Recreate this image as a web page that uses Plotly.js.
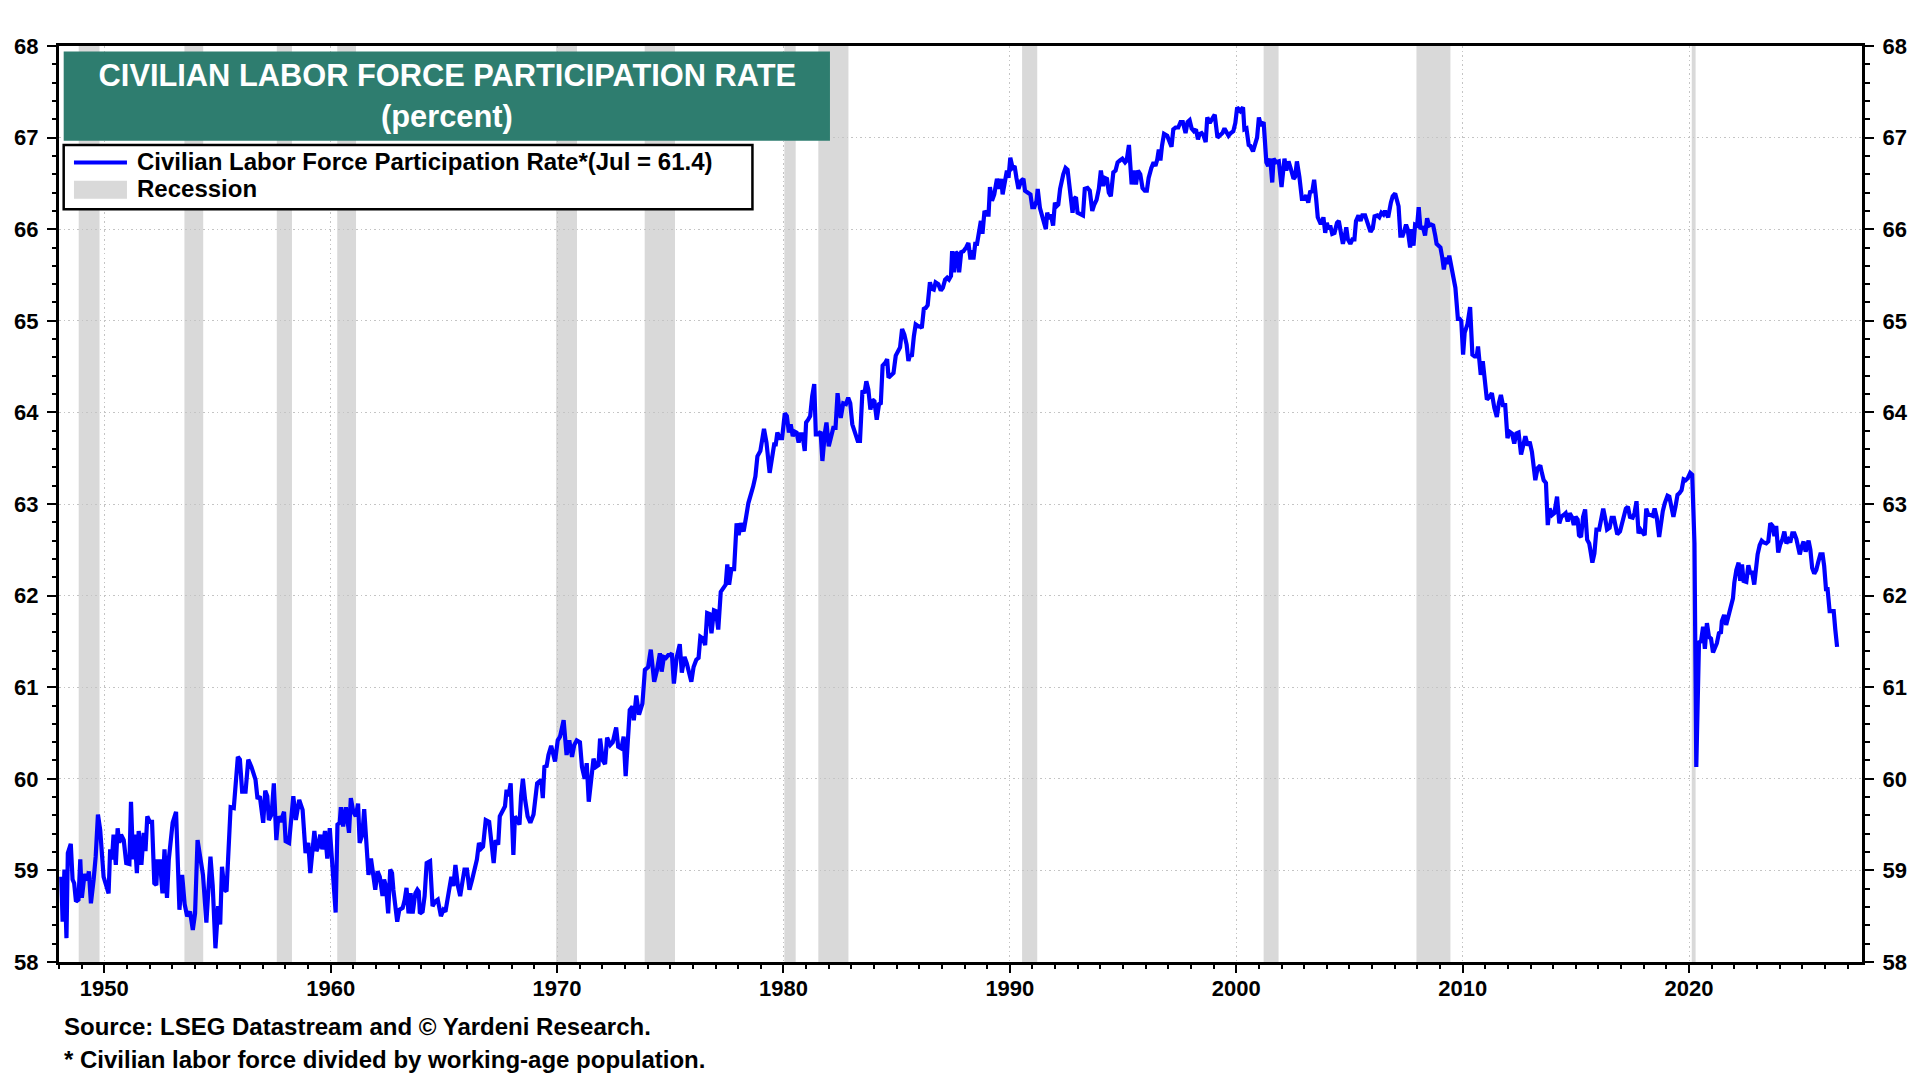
<!DOCTYPE html>
<html>
<head>
<meta charset="utf-8">
<script src="https://cdn.plot.ly/plotly-3.0.1.min.js"></script>
<style>
html,body{margin:0;padding:0;background:#fff;}
#chart{width:1920px;height:1080px;}
</style>
</head>
<body>
<div id="chart"></div>
<script>
// ---- Data (decimal year, percent) ----
const dates = [
1948.10,1948.16,1948.24,1948.33,1948.39,1948.52,1948.60,1948.67,1948.75,1948.86,1948.94,1949.01,1949.13,1949.25,1949.32,1949.41,1949.53,1949.62,1949.72,1949.82,1949.97,
1950.19,1950.26,1950.34,1950.41,1950.51,1950.59,1950.66,1950.74,1950.86,1950.97,1951.11,1951.18,1951.27,1951.34,1951.44,1951.52,1951.64,1951.74,1951.82,1951.90,
1952.01,1952.11,1952.21,1952.30,1952.35,1952.46,1952.57,1952.66,1952.77,1952.85,1953.02,1953.17,1953.32,1953.44,1953.55,1953.66,1953.79,1953.91,
1954.01,1954.12,1954.22,1954.36,1954.51,1954.69,1954.79,1954.91,1955.03,1955.12,1955.20,1955.31,1955.40,1955.50,1955.58,1955.72,1955.90,1955.99,
1956.09,1956.24,1956.36,1956.50,1956.68,1956.77,1956.87,1957.02,1957.11,1957.20,1957.27,1957.39,1957.49,1957.60,1957.69,1957.79,1957.94,
1958.01,1958.16,1958.35,1958.46,1958.61,1958.76,1958.89,1959.01,1959.10,1959.19,1959.28,1959.37,1959.45,1959.54,1959.63,1959.75,1959.85,1959.96,
1960.04,1960.22,1960.30,1960.40,1960.45,1960.55,1960.67,1960.81,1960.89,1961.00,1961.11,1961.21,1961.28,1961.40,1961.48,1961.58,1961.67,1961.78,1961.85,1961.97,
1962.07,1962.17,1962.29,1962.36,1962.44,1962.54,1962.63,1962.71,1962.77,1962.85,1962.94,1963.03,1963.18,1963.27,1963.35,1963.44,1963.53,1963.62,1963.74,1963.83,1963.89,1963.94,
1964.06,1964.15,1964.24,1964.39,1964.50,1964.62,1964.73,1964.87,1964.98,1965.07,1965.16,1965.24,1965.33,1965.42,1965.51,1965.62,1965.72,1965.81,1965.91,
1966.02,1966.13,1966.25,1966.37,1966.46,1966.55,1966.65,1966.73,1966.85,1967.00,1967.10,1967.20,1967.29,1967.40,1967.47,1967.59,1967.70,1967.77,1967.85,1967.95,
1968.07,1968.14,1968.25,1968.34,1968.41,1968.49,1968.59,1968.70,1968.82,1968.96,1969.12,1969.22,1969.30,1969.37,1969.44,1969.54,1969.62,1969.74,1969.82,1969.91,
1970.03,1970.13,1970.29,1970.42,1970.54,1970.66,1970.76,1970.87,1971.01,1971.10,1971.22,1971.31,1971.40,1971.50,1971.61,1971.72,1971.83,1971.90,
1972.02,1972.12,1972.21,1972.35,1972.46,1972.61,1972.70,1972.84,1972.94,1973.03,1973.10,1973.21,1973.33,1973.39,1973.50,1973.62,1973.77,1973.88,
1974.02,1974.14,1974.29,1974.40,1974.54,1974.62,1974.72,1974.81,1974.91,1974.99,1975.07,1975.16,1975.28,1975.42,1975.51,1975.63,1975.73,1975.81,1975.93,
1976.03,1976.15,1976.25,1976.33,1976.45,1976.54,1976.63,1976.73,1976.82,1976.93,1977.02,1977.12,1977.23,1977.37,1977.45,1977.52,1977.60,1977.70,1977.82,1977.93,
1978.02,1978.12,1978.24,1978.35,1978.45,1978.66,1978.76,1978.85,1978.98,1979.14,1979.25,1979.39,1979.50,1979.59,1979.66,1979.73,1979.84,1979.94,
1980.06,1980.15,1980.24,1980.32,1980.41,1980.50,1980.58,1980.67,1980.75,1980.84,1980.94,1981.00,1981.09,1981.18,1981.27,1981.36,1981.43,1981.53,1981.64,1981.72,1981.83,1981.90,
1982.00,1982.09,1982.20,1982.30,1982.39,1982.45,1982.53,1982.64,1982.76,1982.86,1982.95,1983.04,1983.16,1983.28,1983.38,1983.49,1983.58,1983.66,1983.75,1983.84,1983.93,
1984.02,1984.12,1984.22,1984.30,1984.38,1984.49,1984.58,1984.64,1984.75,1984.86,1984.96,1985.08,1985.15,1985.24,1985.34,1985.44,1985.52,1985.59,1985.67,1985.76,1985.84,1985.96,
1986.03,1986.11,1986.20,1986.28,1986.37,1986.47,1986.55,1986.64,1986.72,1986.84,1986.95,1987.04,1987.14,1987.23,1987.31,1987.40,1987.45,1987.54,1987.61,1987.70,1987.76,1987.85,1987.95,
1988.07,1988.17,1988.26,1988.32,1988.39,1988.47,1988.55,1988.64,1988.72,1988.79,1988.88,1988.99,1989.06,1989.12,1989.21,1989.31,1989.43,1989.53,1989.62,1989.68,1989.77,1989.87,1989.94,
1990.02,1990.12,1990.21,1990.29,1990.38,1990.50,1990.60,1990.67,1990.82,1990.91,1990.99,1991.08,1991.18,1991.23,1991.33,1991.42,1991.50,1991.59,1991.65,1991.74,1991.81,1991.91,1991.99,
1992.06,1992.14,1992.22,1992.36,1992.46,1992.55,1992.65,1992.77,1992.83,1992.92,1992.99,1993.11,1993.23,1993.31,1993.43,1993.53,1993.64,1993.73,1993.83,1993.93,
1994.02,1994.12,1994.20,1994.29,1994.37,1994.46,1994.57,1994.67,1994.76,1994.86,1994.97,1995.09,1995.16,1995.26,1995.38,1995.47,1995.57,1995.66,1995.76,1995.86,1995.96,
1996.05,1996.13,1996.25,1996.35,1996.43,1996.51,1996.58,1996.65,1996.72,1996.81,1996.95,1997.05,1997.14,1997.22,1997.32,1997.44,1997.54,1997.64,1997.76,1997.85,1997.94,
1998.03,1998.13,1998.22,1998.31,1998.38,1998.47,1998.56,1998.65,1998.72,1998.83,1998.95,1999.05,1999.17,1999.27,1999.39,1999.48,1999.57,1999.66,1999.76,1999.87,1999.96,
2000.04,2000.18,2000.30,2000.36,2000.45,2000.55,2000.62,2000.74,2000.84,2000.92,2001.00,2001.09,2001.21,2001.33,2001.41,2001.50,2001.59,2001.65,2001.76,2001.88,
2002.00,2002.06,2002.13,2002.21,2002.31,2002.41,2002.53,2002.60,2002.68,2002.79,2002.90,2003.00,2003.09,2003.18,2003.27,2003.35,2003.44,2003.53,2003.60,2003.71,2003.79,2003.85,2003.93,
2004.00,2004.08,2004.15,2004.24,2004.34,2004.45,2004.53,2004.62,2004.71,2004.80,2004.86,2004.93,2005.04,2005.13,2005.22,2005.29,2005.40,2005.49,2005.57,2005.69,2005.81,2005.93,
2006.03,2006.11,2006.23,2006.32,2006.41,2006.50,2006.57,2006.65,2006.71,2006.83,2006.91,2007.02,2007.10,2007.17,2007.25,2007.35,2007.42,2007.50,2007.57,2007.68,2007.75,2007.83,2007.90,2007.99,
2008.06,2008.14,2008.24,2008.34,2008.43,2008.52,2008.61,2008.70,2008.79,2008.85,2008.94,2009.02,2009.10,2009.17,2009.25,2009.32,2009.41,2009.50,2009.59,2009.68,2009.79,2009.87,2009.94,
2010.02,2010.09,2010.21,2010.33,2010.43,2010.53,2010.62,2010.68,2010.74,2010.80,2010.89,2010.98,2011.07,2011.19,2011.29,2011.40,2011.51,2011.60,2011.69,2011.78,2011.88,2011.98,
2012.07,2012.18,2012.28,2012.37,2012.47,2012.58,2012.67,2012.77,2012.87,2012.96,2013.06,2013.14,2013.21,2013.31,2013.43,2013.50,2013.58,2013.68,2013.76,2013.84,2013.95,
2014.05,2014.17,2014.27,2014.36,2014.46,2014.55,2014.64,2014.73,2014.82,2014.91,2014.99,2015.08,2015.14,2015.23,2015.32,2015.41,2015.50,2015.59,2015.64,2015.73,2015.82,2015.91,
2016.03,2016.12,2016.21,2016.29,2016.38,2016.49,2016.58,2016.68,2016.75,2016.83,2016.95,2017.03,2017.12,2017.21,2017.30,2017.39,2017.51,2017.59,2017.68,2017.77,2017.86,2017.95,
2018.04,2018.11,2018.20,2018.31,2018.40,2018.48,2018.57,2018.68,2018.75,2018.84,2018.93,2019.05,2019.13,2019.22,2019.31,2019.40,2019.49,2019.58,2019.67,2019.76,2019.85,2019.94,
2020.05,2020.14,2020.24,2020.32,2020.44,2020.53,2020.62,2020.70,2020.79,2020.88,2020.97,2021.06,2021.14,2021.23,2021.32,2021.41,2021.45,2021.55,2021.64,2021.75,2021.85,2021.94,
2022.00,2022.09,2022.19,2022.26,2022.34,2022.41,2022.53,2022.62,2022.70,2022.79,2022.88,2022.96,2023.03,2023.12,2023.21,2023.30,2023.41,2023.50,2023.59,2023.69,2023.77,2023.85,2023.94,
2024.03,2024.12,2024.21,2024.30,2024.39,2024.47,2024.56,2024.65,2024.74,2024.80,2024.89,2024.97,2025.06,2025.15,2025.21,2025.28,2025.36,2025.44,2025.53,2025.62,2025.71,2025.80,2025.90,2025.97,
2026.05,2026.12,2026.21,2026.30,2026.39,2026.46,2026.54
];
const rates = [
58.93,58.44,59.01,58.26,59.19,59.29,58.90,58.86,58.66,58.68,59.12,58.70,58.96,58.89,58.99,58.64,58.90,59.15,59.61,59.44,58.93,
58.75,59.23,59.12,59.39,59.06,59.46,59.30,59.39,59.33,59.08,59.07,59.75,59.12,59.39,58.97,59.43,59.06,59.41,59.21,59.59,
59.53,59.53,58.86,58.84,59.10,59.10,58.75,59.23,58.70,59.12,59.52,59.64,58.57,58.95,58.63,58.50,58.55,58.35,
58.53,59.33,59.17,58.95,58.43,59.15,58.83,58.15,58.61,58.41,59.04,58.79,58.77,59.41,59.69,59.68,60.24,60.21,
59.86,59.86,60.21,60.13,59.99,59.78,59.81,59.52,59.87,59.81,59.55,59.61,59.95,59.33,59.59,59.53,59.64,
59.32,59.30,59.81,59.55,59.77,59.66,59.19,59.30,58.97,59.23,59.43,59.21,59.26,59.39,59.23,59.43,59.13,59.46,
59.19,58.54,59.50,59.52,59.69,59.48,59.69,59.41,59.79,59.64,59.59,59.73,59.30,59.39,59.67,59.26,58.95,59.13,58.97,58.79,
58.99,58.93,58.72,58.90,58.83,58.53,59.01,58.97,58.79,58.57,58.44,58.57,58.59,58.68,58.81,58.53,58.75,58.53,58.75,58.79,58.77,58.53,
58.55,58.72,59.08,59.10,58.61,58.66,58.68,58.50,58.57,58.55,58.70,58.83,58.93,58.83,59.06,58.83,58.72,58.86,59.01,
59.01,58.79,58.90,59.01,59.12,59.30,59.24,59.26,59.55,59.53,59.30,59.08,59.33,59.28,59.59,59.66,59.70,59.88,59.81,59.95,
59.17,59.59,59.55,59.50,59.81,60.00,59.77,59.59,59.52,59.61,59.95,59.97,59.99,59.79,60.13,60.14,60.26,60.36,60.28,60.19,
60.42,60.46,60.64,60.26,60.42,60.24,60.37,60.42,60.40,60.13,60.00,60.17,59.75,60.02,60.22,60.13,60.15,60.44,
60.20,60.16,60.45,60.37,60.40,60.56,60.35,60.33,60.46,60.03,60.39,60.75,60.79,60.64,60.91,60.70,60.82,61.19,
61.22,61.41,61.06,61.17,61.37,61.17,61.33,61.32,61.35,61.35,61.37,61.04,61.32,61.47,61.16,61.33,61.26,61.17,61.06,
61.22,61.30,61.32,61.55,61.53,61.46,61.81,61.80,61.59,61.84,61.83,61.63,62.04,62.08,62.12,62.34,62.12,62.29,62.29,62.79,
62.66,62.79,62.70,62.86,63.01,63.19,63.30,63.52,63.58,63.82,63.67,63.34,63.54,63.65,63.65,63.78,63.72,63.72,
63.99,63.96,63.78,63.87,63.74,63.79,63.78,63.67,63.76,63.76,63.58,63.89,63.92,63.96,64.18,64.31,63.76,63.76,63.79,63.47,63.78,63.89,
63.63,63.74,63.83,63.83,64.21,64.07,63.94,64.10,64.09,64.16,64.10,63.87,63.78,63.69,63.69,64.24,64.21,64.34,64.25,64.03,64.14,
64.12,63.92,64.09,64.10,64.51,64.54,64.58,64.38,64.40,64.43,64.62,64.69,64.71,64.91,64.85,64.74,64.56,64.63,64.61,64.83,64.96,64.94,
64.94,64.92,65.13,65.14,65.17,65.42,65.35,65.34,65.42,65.40,65.33,65.36,65.45,65.47,65.45,65.49,65.76,65.53,65.75,65.73,65.53,65.75,65.76,
65.80,65.85,65.67,65.77,65.67,65.84,65.84,65.96,66.09,65.95,66.20,66.16,66.16,66.46,66.31,66.38,66.55,66.44,66.55,66.38,66.54,66.64,66.56,
66.78,66.67,66.69,66.56,66.44,66.53,66.55,66.42,66.39,66.38,66.24,66.24,66.31,66.44,66.23,66.16,66.10,66.00,66.18,66.11,66.16,66.04,66.29,
66.25,66.27,66.44,66.60,66.67,66.65,66.47,66.18,66.33,66.35,66.18,66.17,66.15,66.44,66.45,66.42,66.20,66.27,66.32,66.44,
66.64,66.47,66.56,66.55,66.40,66.36,66.62,66.64,66.73,66.75,66.77,66.73,66.75,66.92,66.49,66.64,66.49,66.64,66.60,66.45,66.42,
66.42,66.56,66.67,66.73,66.69,66.76,66.87,66.75,66.91,67.04,67.02,66.96,66.90,67.09,67.11,67.11,67.17,67.17,67.05,67.17,67.19,
67.10,67.07,67.09,66.98,67.04,67.05,67.02,66.95,67.22,67.16,67.21,67.25,67.00,67.02,67.05,67.10,67.05,67.02,67.05,67.07,67.16,
67.33,67.29,67.33,67.09,67.10,66.92,66.91,66.85,66.93,67.00,67.22,67.13,67.17,66.73,66.69,66.77,66.51,66.77,66.73,66.74,
66.46,66.66,66.77,66.64,66.74,66.66,66.55,66.57,66.74,66.57,66.33,66.33,66.37,66.29,66.42,66.40,66.54,66.33,66.13,66.07,66.07,66.13,65.96,
66.07,66.00,66.04,65.95,65.96,66.07,66.09,65.93,65.84,65.93,66.02,65.89,65.84,65.89,65.89,66.09,66.15,66.09,66.15,66.15,66.07,65.97,
66.01,66.14,66.15,66.13,66.18,66.16,66.20,66.16,66.13,66.29,66.36,66.39,66.29,66.25,65.93,65.93,65.98,66.05,66.00,65.80,66.00,65.82,66.05,66.04,
66.24,66.00,66.03,65.93,66.12,66.04,66.05,66.04,65.93,65.84,65.82,65.80,65.69,65.56,65.69,65.62,65.71,65.58,65.45,65.36,65.02,65.02,65.00,
64.63,64.87,64.96,65.15,64.63,64.61,64.61,64.72,64.58,64.41,64.56,64.36,64.14,64.17,64.21,64.05,63.95,64.10,64.19,64.08,64.08,63.72,
63.79,63.77,63.66,63.77,63.78,63.54,63.66,63.74,63.64,63.68,63.57,63.41,63.26,63.39,63.42,63.34,63.26,63.23,62.77,62.95,62.88,
62.90,63.08,62.79,62.86,62.88,62.90,62.81,62.90,62.86,62.77,62.86,62.83,62.66,62.64,62.86,62.94,62.61,62.57,62.50,62.36,62.46,62.72,
62.72,62.83,62.95,62.85,62.72,62.74,62.85,62.85,62.77,62.67,62.70,62.77,62.86,62.95,62.97,62.86,62.85,62.90,63.03,62.68,62.72,62.68,
62.66,62.95,62.88,62.88,62.87,62.95,62.86,62.64,62.77,62.92,63.01,63.09,63.08,62.97,62.86,62.97,63.10,63.12,63.15,63.27,63.26,63.28,
63.34,63.32,62.57,60.13,61.49,61.50,61.66,61.42,61.70,61.55,61.53,61.38,61.42,61.48,61.59,61.60,61.72,61.79,61.68,61.79,61.90,61.97,
62.14,62.28,62.36,62.16,62.34,62.16,62.15,62.33,62.25,62.25,62.12,62.34,62.45,62.55,62.60,62.58,62.57,62.59,62.79,62.76,62.65,62.76,62.47,
62.56,62.61,62.70,62.57,62.61,62.58,62.68,62.68,62.62,62.56,62.45,62.53,62.59,62.48,62.56,62.60,62.50,62.30,62.24,62.28,62.37,62.45,62.45,62.32,
62.07,62.07,61.83,61.83,61.83,61.63,61.44
];

// NBER recessions (decimal year, mid-month of first and last month)
const recessionStart = [1948.87,1953.54,1957.62,1960.29,1969.96,1973.87,1980.04,1981.54,1990.54,2001.21,2007.96,2020.12];
const recessionEnd   = [1949.79,1954.37,1958.29,1961.12,1970.88,1975.21,1980.54,1982.87,1991.21,2001.87,2009.46,2020.29];

const yearTicks = [1950,1960,1970,1980,1990,2000,2010,2020];
const yTicks = [58,59,60,61,62,63,64,65,66,67,68];

const seriesName = 'Civilian Labor Force Participation Rate*(Jul = 61.4)';
const titleLines = ['CIVILIAN LABOR FORCE PARTICIPATION RATE', '(percent)'];
const notes = ['Source: LSEG Datastream and \u00A9 Yardeni Research.', '* Civilian labor force divided by working-age population.'];

// ---- Styling ----
const FONT = 'Liberation Sans, Arial, Helvetica, sans-serif';
const BLUE = '#0000FF';
const GREY = '#D9D9D9';
const TEAL = '#2E7D6F';

const tickFont = {family: FONT, size: 22, color: '#000', weight: 'bold'};

const yCommon = {
  range: [58, 68],
  tickvals: yTicks,
  ticktext: yTicks.map(String),
  ticks: 'outside', ticklen: 9, tickwidth: 2, tickcolor: '#000',
  showline: true, linewidth: 3, linecolor: '#000',
  zeroline: false,
  tickfont: tickFont,
  ticklabelstandoff: 4,
  minor: {dtick: 0.2, tick0: 58, ticks: 'outside', ticklen: 4.5, tickwidth: 1.5, tickcolor: '#000', showgrid: false},
  fixedrange: true
};

const traces = [
  {
    type: 'scatter', mode: 'lines', x: dates, y: rates, name: seriesName,
    line: {color: BLUE, width: 4.2}, hoverinfo: 'x+y'
  },
  {
    type: 'scatter', mode: 'markers', x: [dates[0]], y: [rates[0]], yaxis: 'y2',
    marker: {opacity: 0}, hoverinfo: 'skip', showlegend: false
  }
];

const shapes = recessionStart.map((s, i) => ({
  type: 'rect', xref: 'x', yref: 'paper', x0: s, x1: recessionEnd[i], y0: 0, y1: 1,
  fillcolor: GREY, line: {width: 0}, layer: 'below'
}));
// title box
shapes.push({type: 'rect', xref: 'paper', yref: 'paper', x0: 0.0026, x1: 0.4276, y0: 0.8966, y1: 0.9940,
  fillcolor: TEAL, line: {width: 0}, layer: 'above'});
// legend box
shapes.push({type: 'rect', xref: 'paper', yref: 'paper', x0: 0.0026, x1: 0.3846, y0: 0.8217, y1: 0.8919,
  fillcolor: '#fff', line: {color: '#000', width: 2.5}, layer: 'above'});
shapes.push({type: 'line', xref: 'paper', yref: 'paper', x0: 0.0083, x1: 0.0377, y0: 0.8728, y1: 0.8728,
  line: {color: BLUE, width: 3.8}, layer: 'above'});
shapes.push({type: 'rect', xref: 'paper', yref: 'paper', x0: 0.0083, x1: 0.0377, y0: 0.8333, y1: 0.8529,
  fillcolor: GREY, line: {width: 0}, layer: 'above'});

const labelFont = {family: FONT, size: 24, color: '#000', weight: 'bold'};
const annotations = [
  {xref: 'paper', yref: 'paper', x: 0.2150, y: 0.9231, xanchor: 'center', yanchor: 'middle', showarrow: false,
   text: titleLines[1], font: {family: FONT, size: 30.8, color: '#fff', weight: 'bold'}},
  {xref: 'paper', yref: 'paper', x: 0.0420, y: 0.8740, xanchor: 'left', yanchor: 'middle', showarrow: false,
   text: seriesName, font: labelFont},
  {xref: 'paper', yref: 'paper', x: 0.0420, y: 0.8440, xanchor: 'left', yanchor: 'middle', showarrow: false,
   text: 'Recession', font: labelFont},
  {xref: 'paper', yref: 'paper', x: 0.0015, y: -0.0700, xanchor: 'left', yanchor: 'middle', showarrow: false,
   text: notes[0], font: labelFont},
  {xref: 'paper', yref: 'paper', x: 0.0015, y: -0.1060, xanchor: 'left', yanchor: 'middle', showarrow: false,
   text: notes[1], font: labelFont}
];

const layout = {
  width: 1920, height: 1080,
  paper_bgcolor: '#fff', plot_bgcolor: '#fff',
  margin: {l: 59, r: 58, t: 46, b: 118, autoexpand: false},
  showlegend: false,
  title: {
    text: titleLines[0],
    font: {family: FONT, size: 30.8, color: '#fff', weight: 'bold'},
    xref: 'container', yref: 'container', x: 0.2330, y: 0.9307, xanchor: 'center', yanchor: 'middle'
  },
  xaxis: {
    range: [1948.0, 2027.64],
    tickvals: yearTicks, ticktext: yearTicks.map(String),
    ticks: 'outside', ticklen: 8, tickwidth: 2, tickcolor: '#000',
    showline: true, linewidth: 3, linecolor: '#000', mirror: true,
    showgrid: true, gridcolor: '#C4C4C4', gridwidth: 1, griddash: '1.5px,3px',
    zeroline: false,
    tickfont: tickFont,
    ticklabelstandoff: -3,
    minor: {dtick: 1, tick0: 1950, ticks: 'outside', ticklen: 4, tickwidth: 1.5, tickcolor: '#000', showgrid: false},
    fixedrange: true
  },
  yaxis: Object.assign({}, yCommon, {
    side: 'left', showgrid: true, gridcolor: '#C4C4C4', gridwidth: 1, griddash: '1.5px,3px'
  }),
  yaxis2: Object.assign({}, yCommon, {
    side: 'right', overlaying: 'y', showgrid: false
  }),
  shapes: shapes,
  annotations: annotations
};

Plotly.newPlot('chart', traces, layout, {displayModeBar: false, responsive: false});
</script>
</body>
</html>
